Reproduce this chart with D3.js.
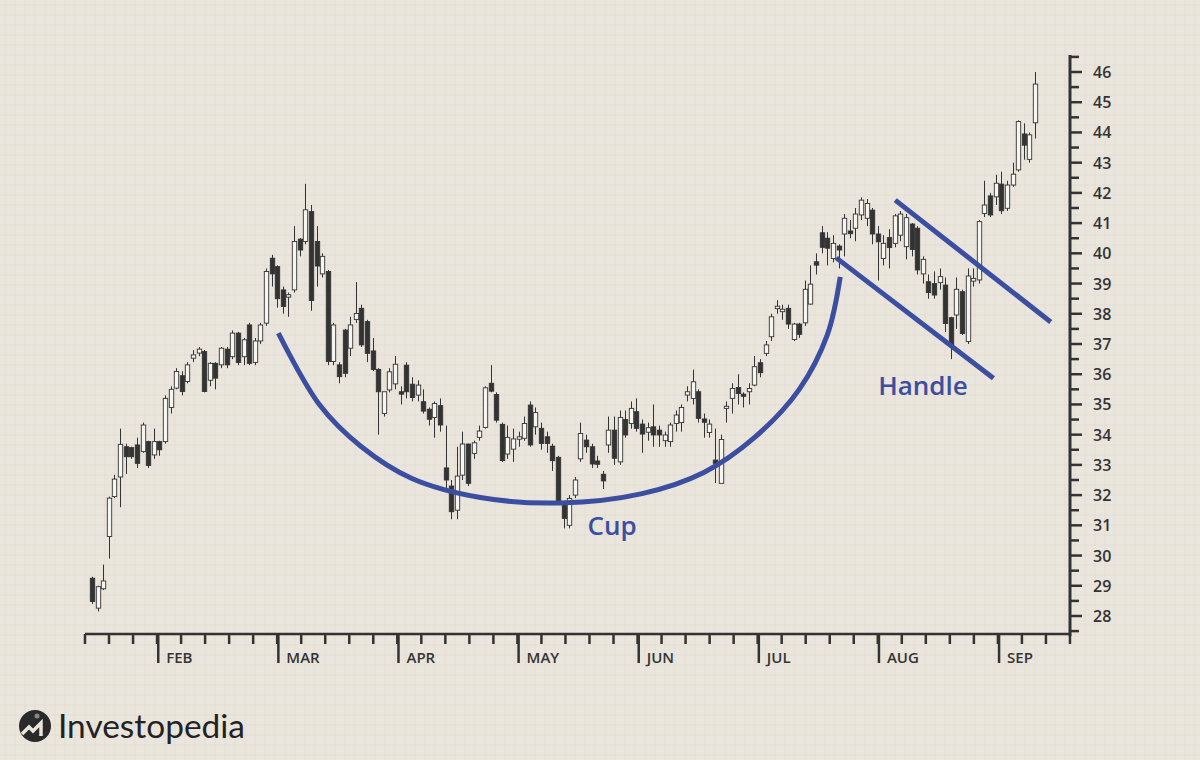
<!DOCTYPE html>
<html><head><meta charset="utf-8">
<script src="https://cdn.jsdelivr.net/npm/d3@7"></script>
<style>body{margin:0;background:#ebe6dd}</style>
</head><body>
<svg id="c" width="1200" height="760"></svg>
<script>
// OHLC candles [open, high, low, close]
const candles = [
[29.25,29.3,28.4,28.48],[28.26,29.0,28.15,28.97],[28.9,29.7,28.86,29.16],[30.63,31.95,29.9,31.9],[31.95,32.67,31.9,32.53],
[32.6,34.2,31.6,33.68],[33.6,33.7,32.7,33.27],[33.57,33.6,33.2,33.27],[33.66,33.9,32.9,33.05],[33.44,34.4,33.4,34.32],
[33.77,33.8,32.9,32.98],[33.33,34.2,33.2,33.77],[33.77,33.8,33.3,33.5],[33.77,35.3,33.7,35.2],[34.9,35.6,34.7,35.5],
[35.54,36.2,35.5,36.09],[35.95,36.1,35.3,35.43],[35.76,36.4,35.7,36.31],[36.53,36.8,36.4,36.64],[36.7,36.9,36.6,36.83],
[36.75,36.8,35.4,35.43],[35.8,36.4,35.6,36.36],[36.36,36.4,35.5,35.87],[36.31,36.9,36.2,36.86],[36.83,36.9,36.2,36.31],
[36.58,37.45,36.5,37.36],[37.36,37.4,36.3,36.39],[36.58,37.2,36.3,37.14],[37.63,37.7,36.3,36.36],[36.39,37.2,36.3,37.1],
[37.1,37.7,37.0,37.63],[37.69,39.5,37.6,39.4],[39.84,39.95,38.9,39.32],[39.56,39.6,38.2,38.5],[38.79,38.9,38.0,38.24],
[38.55,38.7,37.9,38.63],[38.79,40.9,38.7,40.39],[40.47,40.5,39.9,40.11],[40.39,42.3,40.3,41.44],[41.38,41.6,38.1,38.44],
[40.39,40.9,38.9,39.58],[39.32,40.0,39.2,39.9],[39.4,39.45,36.3,36.42],[36.42,37.7,36.3,37.63],[36.31,36.4,35.7,35.92],
[37.46,37.5,35.9,36.03],[36.86,37.9,36.6,37.63],[37.81,39.05,37.7,38.01],[38.18,38.3,36.9,36.97],[37.74,37.8,36.4,36.69],
[36.77,37.2,36.1,36.16],[36.16,36.2,34.0,35.42],[34.7,35.4,34.6,35.42],[35.48,36.2,35.4,36.08],[35.68,36.6,35.5,36.33],
[35.42,35.6,35.0,35.34],[36.3,36.4,35.2,35.42],[35.67,35.9,35.1,35.23],[35.31,35.8,35.1,35.64],[35.09,35.5,34.7,34.78],
[34.84,34.9,34.3,34.51],[34.57,35.1,33.9,35.03],[34.96,35.2,34.1,34.32],[32.9,34.3,32.2,32.5],[32.3,32.5,31.2,31.45],
[31.5,33.6,31.2,32.63],[32.66,34.1,32.5,33.69],[33.69,33.7,32.3,32.39],[33.38,33.8,33.2,33.73],[33.91,34.3,33.8,34.12],
[34.24,35.6,34.2,35.55],[35.7,36.3,35.4,35.44],[35.33,35.4,34.4,34.48],[34.34,34.4,33.1,33.14],[33.36,34.3,33.2,33.91],
[33.52,34.2,33.1,33.86],[33.85,34.1,33.6,33.93],[33.88,34.6,33.8,34.37],[34.98,35.1,33.6,33.66],[34.26,34.9,34.0,34.73],
[34.21,34.4,33.5,33.71],[33.93,34.1,33.4,33.71],[33.62,33.7,32.8,33.14],[33.25,33.3,31.7,31.78],[31.67,31.8,30.9,31.23],
[31.0,32.0,30.9,31.89],[32.0,32.6,31.9,32.5],[33.2,34.4,33.1,34.04],[33.82,34.0,33.4,33.6],[33.6,33.7,32.9,33.03],
[33.13,33.3,32.9,33.02],[32.69,32.8,32.2,32.47],[33.66,34.6,33.4,34.15],[34.15,34.6,33.0,33.22],[33.1,34.8,33.0,34.57],
[34.5,34.8,33.9,33.99],[34.37,35.1,34.2,34.87],[34.76,35.2,34.1,34.21],[34.35,34.5,33.4,34.02],[34.08,34.4,33.8,34.23],
[34.26,35.0,33.6,33.99],[34.15,34.3,33.6,33.99],[33.8,34.1,33.6,33.99],[33.77,34.4,33.6,34.32],[34.37,34.8,34.1,34.65],
[34.4,35.0,34.1,34.9],[35.31,35.6,35.1,35.42],[35.2,36.15,35.0,35.75],[35.42,35.5,34.4,34.54],[34.52,34.7,33.9,34.41],
[34.07,34.5,33.9,34.35],[33.16,34.2,32.4,33.05],[32.39,34.0,32.4,33.84],[34.87,35.1,34.4,34.94],[35.2,35.7,34.7,35.53],
[35.56,36.0,35.0,35.36],[35.34,35.4,34.9,35.27],[35.42,35.7,35.0,35.53],[35.64,36.6,35.6,36.25],[36.38,36.5,35.9,36.05],
[36.69,37.1,36.6,36.97],[37.24,38.0,37.1,37.9],[38.17,38.45,38.0,38.25],[38.07,38.3,37.8,38.15],[38.18,38.3,37.5,37.66],
[37.15,37.7,37.1,37.66],[37.66,37.7,37.2,37.32],[37.7,39.1,37.6,38.81],[38.32,39.6,38.3,38.98],[39.72,40.0,39.3,39.61],
[40.68,40.9,40.0,40.2],[40.5,40.7,39.6,40.17],[39.83,40.6,39.7,40.33],[40.24,40.3,39.5,40.11],[40.64,41.3,39.9,41.16],
[40.74,41.1,40.5,40.65],[40.83,41.5,40.4,41.3],[41.27,41.85,41.1,41.76],[41.16,41.8,40.9,41.65],[41.43,41.5,40.3,40.64],
[40.64,40.9,39.1,40.38],[39.83,40.6,39.6,40.33],[40.52,40.8,39.5,40.19],[40.33,41.3,40.2,41.24],[40.6,41.4,40.4,41.3],
[40.22,41.3,39.8,41.18],[40.97,41.0,39.9,40.13],[40.83,40.9,39.3,39.45],[39.32,39.9,39.0,39.8],[39.06,39.3,38.5,38.7],
[39.0,39.4,38.5,38.62],[39.03,39.5,38.8,39.23],[38.95,39.2,37.4,37.68],[37.87,37.9,36.5,36.97],[37.96,39.2,37.5,38.81],
[38.73,38.8,37.3,37.35],[37.08,39.5,37.0,39.25],[39.08,39.5,38.9,39.17],[39.12,41.1,39.0,41.05],[41.32,42.4,41.2,41.6],
[41.9,42.0,41.2,41.27],[41.87,42.6,41.6,42.32],[42.29,42.7,41.3,41.41],[41.49,42.4,41.4,42.26],[42.26,43.0,42.2,42.62],
[42.76,44.4,42.7,44.36],[43.95,44.3,43.1,43.58],[43.11,44.0,43.0,43.92],[44.32,46.0,43.8,45.6]
];
const priceTicks = d3.range(28, 47);
const months = ["FEB","MAR","APR","MAY","JUN","JUL","AUG","SEP"];
const monthIdx = [11.8,33.2,54.6,76.0,97.4,118.8,140.2,161.6]; // candle-index position of month starts
const cupPts = [[33.2,37.36],[40.5,35.0],[48.0,33.6],[57.0,32.55],[69.2,31.92],[83.4,31.74],[98.0,32.05],[109.0,32.75],[118.0,33.9],[126.0,35.5],[131.0,37.3],[133.3,39.22]];
const handleLow = [[132.6,39.85],[160.6,35.87]];
const handleHigh = [[143.1,41.76],[170.8,37.73]];

const svg = d3.select("#c");
const x = d3.scaleLinear().domain([0, 168]).range([92, 1035]);
const y = d3.scaleLinear().domain([28, 46]).range([616, 72]);
const ink = "#333";
const blue = "#3b4ea0";

const g0 = svg.append("g");
g0.append("rect").attr("width",1200).attr("height",760).attr("fill","#ebe6dd");
for (let gx = 5; gx < 1200; gx += 10) g0.append("line").attr("x1",gx).attr("x2",gx).attr("y1",0).attr("y2",760).attr("stroke","#e2ddd3").attr("stroke-width",1);
for (let gy = 5; gy < 760; gy += 10) g0.append("line").attr("y1",gy).attr("y2",gy).attr("x1",0).attr("x2",1200).attr("stroke","#e2ddd3").attr("stroke-width",1);

const cg = svg.append("g");
const bw = 4.4;
candles.forEach((d,i) => {
  const [o,h,l,c] = d; const up = c >= o; const cx = Math.round(x(i)) + 0.5;
  cg.append("line").attr("x1",cx).attr("x2",cx).attr("y1",y(h)).attr("y2",y(l)).attr("stroke",ink).attr("stroke-width",1);
  const top = y(Math.max(o,c)), bot = y(Math.min(o,c));
  cg.append("rect").attr("x",cx-bw/2).attr("y",top).attr("width",bw).attr("height",Math.max(1.5,bot-top))
    .attr("fill", up ? "#f7f5f0" : "#333").attr("stroke",ink).attr("stroke-width",0.9);
});

const line = d3.line().x(d=>x(d[0])).y(d=>y(d[1]));
svg.append("path").attr("d", line.curve(d3.curveCatmullRom)(cupPts)).attr("fill","none").attr("stroke",blue).attr("stroke-width",5);
const sl = d3.line().x(d=>x(d[0])).y(d=>y(d[1]));
[handleLow, handleHigh].forEach(p => svg.append("path").attr("d", sl(p)).attr("stroke",blue).attr("stroke-width",5).attr("fill","none"));
svg.append("text").attr("x",612).attr("y",535).attr("text-anchor","middle").attr("fill",blue)
  .attr("font-family","Open Sans, sans-serif").attr("font-weight",600).attr("font-size",26).text("Cup");
svg.append("text").attr("x",923).attr("y",395).attr("text-anchor","middle").attr("fill",blue)
  .attr("font-family","Open Sans, sans-serif").attr("font-weight",600).attr("font-size",26).text("Handle");

const ay = svg.append("g").attr("stroke",ink);
ay.append("line").attr("x1",1070).attr("x2",1070).attr("y1",55).attr("y2",636).attr("stroke-width",3);
d3.range(27.5, 46.6, 0.5).forEach(v => {
  const major = Number.isInteger(v);
  ay.append("line").attr("x1",1070).attr("x2",major?1082:1079).attr("y1",y(v)).attr("y2",y(v)).attr("stroke-width",2.5);
});
svg.append("g").selectAll("text").data(priceTicks).join("text").attr("x",1093).attr("y",d=>y(d)+6)
  .attr("font-family","Open Sans, sans-serif").attr("font-size",16).attr("font-weight",600).attr("fill",ink).text(d=>d);

const ax = svg.append("g").attr("stroke",ink);
ax.append("line").attr("x1",85).attr("x2",1071).attr("y1",634).attr("y2",634).attr("stroke-width",2.5);
const minorStep = 4.28;
for (let t = -1.25; x(t) <= 1071; t += minorStep) {
  ax.append("line").attr("x1",x(t)).attr("x2",x(t)).attr("y1",634).attr("y2",644).attr("stroke-width",2.5);
}
monthIdx.forEach((m,k) => {
  ax.append("line").attr("x1",x(m)).attr("x2",x(m)).attr("y1",634).attr("y2",663).attr("stroke-width",2.5);
  svg.append("text").attr("x",x(m)+8).attr("y",663).attr("font-family","Open Sans, sans-serif").attr("font-size",15)
    .attr("font-weight",600).attr("fill",ink).text(months[k]);
});

const lg = svg.append("g");
lg.append("circle").attr("cx",35).attr("cy",726).attr("r",16).attr("fill","#2a2a2a");
lg.append("path").attr("d","M22 734 L29 727 L33 731 L41 723 L41 736").attr("stroke","#ebe6dd").attr("stroke-width",3.5).attr("fill","none").attr("stroke-linejoin","miter");
lg.append("circle").attr("cx",37).attr("cy",716).attr("r",2.5).attr("fill","#888");
lg.append("text").attr("x",58).attr("y",738).attr("font-family","Lato, sans-serif").attr("font-size",32)
  .attr("textLength",187).attr("lengthAdjust","spacingAndGlyphs").attr("fill","#222").text("Investopedia");
</script>
</body></html>
